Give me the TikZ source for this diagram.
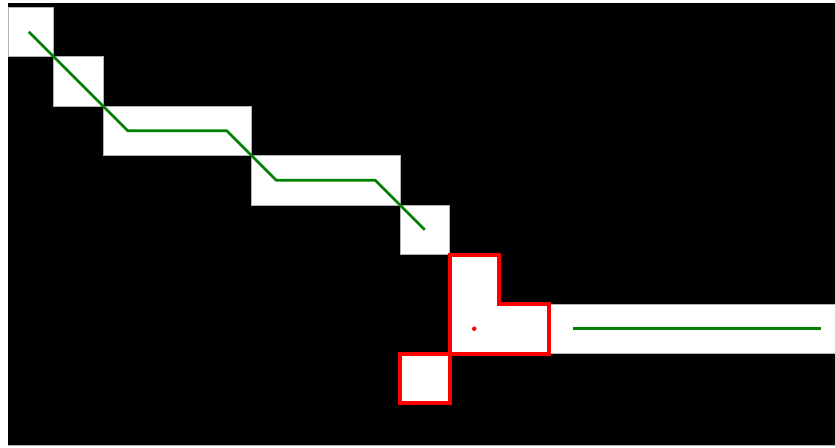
\documentclass[tikz,border=0pt]{standalone}
\usetikzlibrary{positioning}
\definecolor{route}{RGB}{0,128,0}
\tikzset{
  free/.style={fill=white,draw=gray!60,line width=0.5pt},
  path line/.style={route,line width=1.6pt,line join=round},
  hot/.style={draw=red,line width=2.3pt,line join=miter},
}
\begin{document}
\begin{tikzpicture}[x=1cm,y=-1cm]
  \useasboundingbox (-0.0808,-0.1414) rectangle (16.788,8.909);
  \fill[black] (0.0808,-0.0808) rectangle (16.788,8.848);
  \draw[gray!60,line width=0.5pt] (0.0808,8.848) -- (16.788,8.848);
  % open cells of the grid
  \foreach \xa/\ya/\xb/\yb in {0.0808/0/1/1, 1/1/2/2, 2/2/5/3, 5/3/8/4, 8/4/9/5, 8/7/9/8}{
    \draw[free] (\xa,\ya) rectangle (\xb,\yb);
  }
  \draw[free] (9,5) -- (10,5) -- (10,6) -- (16.788,6) -- (16.788,7) -- (9,7) -- cycle;
  % way points
  \coordinate (p0) at (0.5,0.5);
  \coordinate (p1) at (2.5,2.5);
  \coordinate (p2) at (4.5,2.5);
  \coordinate (p3) at (5.5,3.5);
  \coordinate (p4) at (7.5,3.5);
  \coordinate (p5) at (8.5,4.5);
  \coordinate (q0) at (11.5,6.5);
  \coordinate (q1) at (16.5,6.5);
  \draw[path line] (p0) -- (p1) -- (p2) -- (p3) -- (p4) -- (p5);
  \draw[path line] (q0) -- (q1);
  % blocked region
  \draw[hot] (9,5) -- (10,5) -- (10,6) -- (11,6) -- (11,7) -- (9,7) -- cycle;
  \draw[hot] (8,7) rectangle (9,8);
  \coordinate (c) at (9.5,6.5);
  \fill[red] (c) circle (0.045);
\end{tikzpicture}
\end{document}
